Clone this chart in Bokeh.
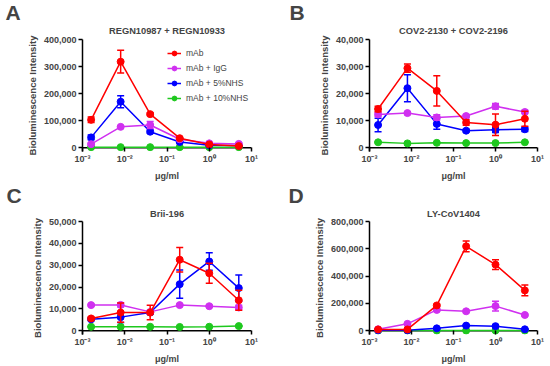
from bokeh.plotting import figure
from bokeh.layouts import gridplot
from bokeh.models import (ColumnDataSource, FixedTicker, NumeralTickFormatter,
                          CustomJSTickFormatter, Title, Legend, LegendItem, Range1d, Span)
from bokeh.embed import file_html
from bokeh.resources import INLINE

# ---------------- data ----------------
conc = [0.0016, 0.008, 0.04, 0.2, 1.0, 5.0]
series_names = ["mAb", "mAb + IgG", "mAb + 5%NHS", "mAb + 10%NHS"]
series_colors = ["#FF0000", "#D030F0", "#0000FF", "#1EC81E"]

titles = ["REGN10987 + REGN10933", "COV2-2130 + COV2-2196", "Brii-196", "LY-CoV1404"]
letters = ["A", "B", "C", "D"]
y_max = [400000, 40000, 50000, 800000]
y_step = [100000, 10000, 10000, 200000]

A_mab = [103000, 318000, 124000, 35000, 12000, 6000]
A_mab_err = [10000, 42000, 5000, 3000, 2000, 1000]
A_igg = [13000, 77000, 84000, 31000, 16000, 14000]
A_igg_err = [4000, 4000, 13000, 3000, 4000, 4000]
A_nhs5 = [38000, 170000, 59000, 21000, 9000, 8000]
A_nhs5_err = [9000, 22000, 6000, 3000, 2000, 2000]
A_nhs10 = [2000, 2000, 2000, 2000, 2000, 2000]
A_nhs10_err = [0, 0, 0, 0, 0, 0]

B_mab = [14300, 29400, 21000, 9300, 8500, 10700]
B_mab_err = [1000, 1500, 5600, 1000, 4000, 2800]
B_igg = [12300, 12800, 11200, 11700, 15300, 13200]
B_igg_err = [800, 500, 1000, 600, 1000, 600]
B_nhs5 = [8400, 22000, 8800, 6300, 6600, 6800]
B_nhs5_err = [2500, 5000, 2000, 500, 1000, 800]
B_nhs10 = [2000, 1600, 1800, 1700, 1700, 2000]
B_nhs10_err = [200, 100, 100, 100, 100, 100]

C_mab = [5600, 8300, 8300, 32500, 26300, 13900]
C_mab_err = [700, 4400, 3300, 5600, 4600, 4600]
C_igg = [11700, 11800, 8600, 11700, 11200, 10600]
C_igg_err = [400, 1000, 600, 500, 400, 1000]
C_nhs5 = [5200, 6200, 8300, 21300, 31700, 19500]
C_nhs5_err = [500, 2500, 800, 6500, 4000, 6000]
C_nhs10 = [1800, 1800, 1800, 1700, 1800, 2100]
C_nhs10_err = [100, 100, 100, 100, 100, 100]

D_mab = [9000, 9000, 185000, 618000, 484000, 295000]
D_mab_err = [3000, 3000, 8000, 40000, 35000, 40000]
D_igg = [10000, 50000, 152000, 142000, 180000, 115000]
D_igg_err = [2000, 5000, 10000, 8000, 36000, 8000]
D_nhs5 = [3000, 3000, 17000, 37000, 33000, 10000]
D_nhs5_err = [1000, 1000, 3000, 5000, 5000, 2000]
D_nhs10 = [1000, 1000, 1000, 1000, 1000, 1000]
D_nhs10_err = [0, 0, 0, 0, 0, 0]

panel_series = [
    [(A_mab, A_mab_err), (A_igg, A_igg_err), (A_nhs5, A_nhs5_err), (A_nhs10, A_nhs10_err)],
    [(B_mab, B_mab_err), (B_igg, B_igg_err), (B_nhs5, B_nhs5_err), (B_nhs10, B_nhs10_err)],
    [(C_mab, C_mab_err), (C_igg, C_igg_err), (C_nhs5, C_nhs5_err), (C_nhs10, C_nhs10_err)],
    [(D_mab, D_mab_err), (D_igg, D_igg_err), (D_nhs5, D_nhs5_err), (D_nhs10, D_nhs10_err)],
]

# ---------------- layout geometry (page pixels) ----------------
FONT = "Liberation Sans"
col_left = [0, 275, 0, 275]
row_top = [0, 0, 183, 183]
fig_w = [275, 275, 275, 275]
fig_h = [183, 183, 183, 183]
frame_l = [82, 366, 82, 369]
frame_r = [251, 537, 252, 537]
frame_t = [39, 39, 217, 217]
zero_y = [152, 153, 331, 331]
title_standoff = [7, 7, 5, 5]
letter_x = [5, 286, 6, 288]
letter_standoff = [-6, -6, -4, -4]
tick_len = 4

fmt = CustomJSTickFormatter(code="""
const e = Math.round(Math.log10(tick));
const sup = {"-":"\u207b","0":"\u2070","1":"\u00b9","2":"\u00b2","3":"\u00b3"};
return "10" + String(e).split("").map(c => sup[c]).join("");
""")

figs = []
for i in range(4):
    fb = zero_y[i] + tick_len
    data_px = zero_y[i] - frame_t[i]
    delta = y_max[i] * tick_len / data_px
    p = figure(width=fig_w[i], height=fig_h[i], x_axis_type="log", title=None,
               x_range=Range1d(1e-3, 10), y_range=Range1d(-delta, y_max[i]),
               output_backend="svg", toolbar_location=None,
               min_border_left=frame_l[i] - col_left[i],
               min_border_right=col_left[i] + fig_w[i] - frame_r[i],
               min_border_top=frame_t[i] - row_top[i],
               min_border_bottom=row_top[i] + fig_h[i] - fb)
    p.outline_line_color = None
    p.xgrid.visible = False
    p.ygrid.visible = False

    xa = p.xaxis[0]
    xa.ticker = FixedTicker(ticks=[1e-3, 1e-2, 1e-1, 1, 10], minor_ticks=[])
    xa.formatter = fmt
    xa.axis_line_alpha = 0
    xa.major_tick_in = tick_len
    xa.major_tick_out = 0
    xa.major_tick_line_width = 1.5
    xa.minor_tick_line_color = None
    xa.major_label_standoff = 2
    xa.major_label_text_font = FONT
    xa.major_label_text_font_style = "bold"
    xa.major_label_text_font_size = "9px"
    xa.axis_label = "\u03bcg/ml"
    xa.axis_label_text_font = FONT
    xa.axis_label_text_font_style = "bold"
    xa.axis_label_text_font_size = "9px"
    xa.axis_label_standoff = 4

    ya = p.yaxis[0]
    ya.ticker = FixedTicker(ticks=list(range(0, y_max[i] + 1, y_step[i])), minor_ticks=[])
    ya.formatter = NumeralTickFormatter(format="0,0")
    ya.axis_line_width = 1.5
    ya.major_tick_in = 0
    ya.major_tick_out = tick_len
    ya.major_tick_line_width = 1.5
    ya.minor_tick_line_color = None
    ya.major_label_standoff = 2
    ya.major_label_text_font = FONT
    ya.major_label_text_font_style = "bold"
    ya.major_label_text_font_size = "9px"
    ya.axis_label = "Bioluminescence Intensity"
    ya.axis_label_text_font = FONT
    ya.axis_label_text_font_style = "bold"
    ya.axis_label_text_font_size = "9.5px"
    ya.axis_label_standoff = 3

    p.add_layout(Span(location=0, dimension="width", line_color="black",
                      line_width=1.5, level="underlay"))

    items = []
    for k in [3, 2, 1, 0]:
        vals, errs = panel_series[i][k]
        src = ColumnDataSource(dict(
            x=conc, y=vals,
            lo=[v - e for v, e in zip(vals, errs)],
            hi=[v + e for v, e in zip(vals, errs)]))
        c = series_colors[k]
        p.segment(x0="x", y0="lo", x1="x", y1="hi", source=src, line_color=c, line_width=1.5)
        p.scatter(x="x", y="hi", source=src, marker="dash", size=7, line_color=c, line_width=1.5)
        p.scatter(x="x", y="lo", source=src, marker="dash", size=7, line_color=c, line_width=1.5)
        lr = p.line(x="x", y="y", source=src, line_color=c, line_width=1.5)
        sr = p.scatter(x="x", y="y", source=src, marker="circle", size=7,
                       fill_color=c, line_color=c)
        items.append((k, LegendItem(label=series_names[k], renderers=[lr, sr])))

    if i == 0:
        items.sort(key=lambda t: t[0])
        leg = Legend(items=[it for _, it in items], location=(85, 47),
                     padding=0, margin=0, spacing=3, glyph_width=14, glyph_height=12,
                     label_height=12, label_standoff=5, border_line_alpha=0,
                     background_fill_alpha=0, label_text_font=FONT,
                     label_text_font_size="8.5px")
        p.add_layout(leg)

    # panel title (closest to the frame), then the panel letter above it
    p.add_layout(Title(text=titles[i], align="center", standoff=title_standoff[i],
                       text_font=FONT, text_font_style="bold", text_font_size="9.3px"),
                 "above")
    p.add_layout(Title(text=letters[i], align="left", standoff=letter_standoff[i],
                       offset=letter_x[i] - frame_l[i],
                       text_font=FONT, text_font_style="bold", text_font_size="21px"),
                 "above")
    figs.append(p)

grid = gridplot([[figs[0], figs[1]], [figs[2], figs[3]]], toolbar_location=None)

open("out.html", "w", encoding="utf-8").write(file_html(grid, INLINE))
